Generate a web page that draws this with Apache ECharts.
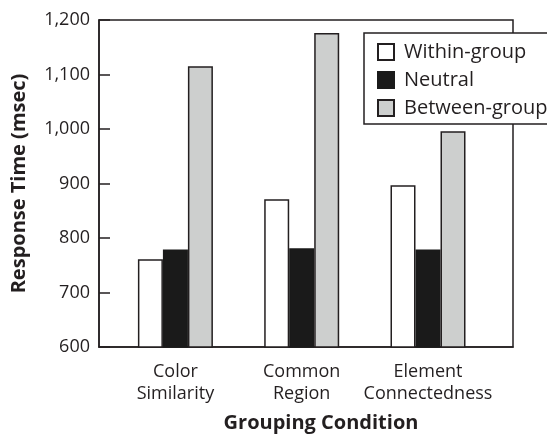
<!DOCTYPE html>
<html>
<head>
<meta charset="utf-8">
<script src="https://cdn.jsdelivr.net/npm/echarts@6/dist/echarts.min.js"></script>
<style>
html,body{margin:0;padding:0;background:#fff;}
#chart{width:547px;height:438px;}
</style>
</head>
<body>
<div id="chart"></div>
<script>
var categories = ['Color\nSimilarity', 'Common\nRegion', 'Element\nConnectedness'];
var categoryPositions = [1, 2, 3];
var withinGroup = [761, 871, 897];
var neutral = [779, 781, 779];
var betweenGroup = [1115, 1176, 996];
var yTicks = [600, 700, 800, 900, 1000, 1100, 1200];

var FONT = 'Open Sans';
var INK = '#231f20';

function pairs(vals) {
  return vals.map(function (v, i) { return [categoryPositions[i], v]; });
}

var chart = echarts.init(document.getElementById('chart'), null, {renderer: 'canvas'});
var barCommon = {
  type: 'bar',
  barWidth: 25,
  barGap: '0%'
};
chart.setOption({
  animation: false,
  backgroundColor: '#fff',
  textStyle: {fontFamily: FONT, color: INK},
  grid: {
    left: 99, right: 34, top: 20, bottom: 91,
    show: true, borderColor: INK, borderWidth: 1.5,
    containLabel: false
  },
  legend: {
    orient: 'vertical',
    left: 364, top: 33,
    padding: [9, 3, 6, 13],
    itemWidth: 16, itemHeight: 16, itemGap: 8,
    icon: 'rect',
    backgroundColor: '#fff',
    borderColor: INK, borderWidth: 1.5,
    textStyle: {fontFamily: FONT, fontSize: 20, color: INK, padding: [0, 0, 0, 5]},
    data: ['Within-group', 'Neutral', 'Between-group']
  },
  xAxis: {
    type: 'value',
    min: 0.395, max: 3.673,
    name: 'Grouping Condition',
    nameLocation: 'middle',
    nameGap: 66,
    nameTextStyle: {fontFamily: FONT, fontSize: 20, fontWeight: 'bold', color: INK, padding: [0, 0, 0, 30]},
    axisLine: {show: true, lineStyle: {color: INK, width: 1.5}},
    axisTick: {show: false},
    splitLine: {show: false},
    axisLabel: {
      customValues: categoryPositions,
      fontFamily: FONT, fontSize: 18, color: INK, lineHeight: 22, margin: 14,
      formatter: function (v) {
        var i = categoryPositions.indexOf(Math.round(v));
        return i >= 0 ? categories[i] : '';
      }
    }
  },
  yAxis: {
    type: 'value',
    min: 600, max: 1200, interval: 100,
    name: 'Response Time (msec)',
    nameLocation: 'middle',
    nameGap: 70,
    nameTextStyle: {fontFamily: FONT, fontSize: 20, fontWeight: 'bold', color: INK},
    axisLine: {show: true, lineStyle: {color: INK, width: 1.5}},
    axisTick: {show: true, inside: true, length: 11, lineStyle: {color: INK, width: 1.5}},
    splitLine: {show: false},
    axisLabel: {
      fontFamily: FONT, fontSize: 18, color: INK, margin: 9,
      formatter: function (v) { return v.toLocaleString('en-US'); }
    }
  },
  series: [
    Object.assign({}, barCommon, {
      name: 'Within-group', data: pairs(withinGroup),
      itemStyle: {color: '#ffffff', borderColor: INK, borderWidth: 1.5}
    }),
    Object.assign({}, barCommon, {
      name: 'Neutral', data: pairs(neutral),
      itemStyle: {color: '#1a1a1a', borderColor: '#1a1a1a', borderWidth: 1.5}
    }),
    Object.assign({}, barCommon, {
      name: 'Between-group', data: pairs(betweenGroup),
      itemStyle: {color: '#cdcfce', borderColor: INK, borderWidth: 1.5}
    })
  ]
});
</script>
</body>
</html>
